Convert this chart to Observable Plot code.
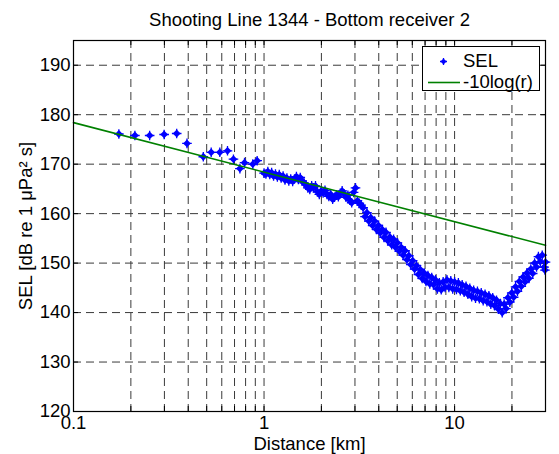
<!DOCTYPE html>
<html>
<head>
<meta charset="utf-8">
<script src="https://cdn.jsdelivr.net/npm/d3@7"></script>
<script src="https://cdn.jsdelivr.net/npm/@observablehq/plot@0.6"></script>
<style>
  html, body { margin: 0; padding: 0; background: #fff; }
  #chart { position: relative; width: 559px; height: 454px; font-family: "Liberation Sans", Arial, sans-serif; }
  #legend {
    position: absolute; left: 422px; top: 46px; width: 118px; height: 45px;
    box-sizing: border-box; border: 1px solid #000; background: #fff;
    font-size: 18.5px; color: #000;
  }
  #legend .row { position: absolute; left: 0; display: flex; align-items: center; height: 22px; }
  #legend .row svg { display: block; }
</style>
</head>
<body>
<div id="chart">
  <div id="legend">
    <div class="row" style="top:3px">
      <svg width="40" height="22"><path d="M20.5,8v7M17,11.5h7" stroke="#0000ff" stroke-width="1.3"/><path d="M20.5,8.5l3,3l-3,3l-3,-3z" fill="#0000ff"/></svg>
      <span>SEL</span>
    </div>
    <div class="row" style="top:24px">
      <svg width="40" height="22"><line x1="5" x2="37" y1="11.5" y2="11.5" stroke="#008000" stroke-width="1.6"/></svg>
      <span>-10log(r)</span>
    </div>
  </div>
</div>
<script>
// Shot-by-shot sound exposure level at bottom receiver 2, shooting line 1344
const distanceKm = [
  0.173, 0.21, 0.251, 0.299, 0.348, 0.394, 0.48, 0.528, 0.586, 0.643, 0.691, 0.747, 0.79, 0.873, 0.92,
  1.000, 1.023, 1.047, 1.072, 1.096, 1.122, 1.148, 1.175, 1.202, 1.230,
  1.259, 1.288, 1.318, 1.349, 1.380, 1.413, 1.445, 1.479, 1.514, 1.549,
  1.585, 1.622, 1.660, 1.698, 1.738, 1.778, 1.820, 1.862, 1.905, 1.950,
  1.995, 2.042, 2.089, 2.138, 2.188, 2.239, 2.291, 2.344, 2.399, 2.455,
  2.512, 2.570, 2.630, 2.692, 2.754, 2.818, 2.884, 2.951, 3.020, 3.090,
  3.162, 3.236, 3.311, 3.388, 3.467, 3.548, 3.631, 3.715, 3.802, 3.890,
  3.981, 4.074, 4.169, 4.266, 4.365, 4.467, 4.571, 4.677, 4.786, 4.898,
  5.012, 5.129, 5.248, 5.370, 5.495, 5.623, 5.754, 5.888, 6.026, 6.166,
  6.310, 6.457, 6.607, 6.761, 6.918, 7.079, 7.244, 7.413, 7.586, 7.762,
  7.943, 8.128, 8.318, 8.511, 8.710, 8.913, 9.120, 9.333, 9.550, 9.772,
  10.00, 10.23, 10.47, 10.72, 10.96, 11.22, 11.48, 11.75, 12.02, 12.30,
  12.59, 12.88, 13.18, 13.49, 13.80, 14.13, 14.45, 14.79, 15.14, 15.49,
  15.85, 16.22, 16.60, 16.98, 17.38, 17.78, 18.20, 18.62, 19.05, 19.50,
  19.95, 20.42, 20.89, 21.38, 21.88, 22.39, 22.91, 23.44, 23.99, 24.55,
  25.12, 25.70, 26.30, 26.92, 27.54, 28.18, 28.84, 29.51, 29.80, 30.00
];
const selDb = [
  176.1, 175.8, 175.8, 176.0, 176.2, 174.2, 171.5, 172.4, 172.4, 172.7, 171.0, 169.1, 170.3, 170.0, 170.7,
  168.2, 168.0, 168.5, 167.9, 168.3, 167.6, 168.0, 167.4, 167.9, 167.2,
  167.6, 166.8, 167.2, 166.6, 167.0, 166.5, 167.0, 167.5, 166.9, 167.3,
  166.6, 166.2, 165.8, 165.2, 164.9, 165.6, 165.2, 165.6, 164.4, 163.9,
  164.6, 164.2, 164.7, 163.9, 163.5, 163.9, 162.9, 163.3, 163.8, 163.4,
  164.1, 164.6, 164.0, 163.3, 163.7, 162.7, 162.2, 164.3, 165.2, 162.6,
  162.1, 161.7, 161.2, 159.4, 160.2, 158.5, 159.2, 157.6, 158.5, 156.8,
  157.6, 156.1, 156.8, 155.2, 156.2, 154.5, 155.3, 153.7, 154.8, 153.2,
  154.1, 152.4, 153.2, 151.6, 152.5, 150.7, 151.5, 149.7, 150.5, 148.8,
  149.5, 147.7, 148.7, 146.9, 148.0, 146.3, 147.5, 145.8, 147.1, 145.6,
  146.6, 144.8, 146.0, 144.6, 146.2, 145.1, 146.6, 145.1, 146.4, 144.8,
  146.2, 144.7, 146.0, 144.4, 145.6, 144.1, 145.3, 143.7, 144.9, 143.2,
  144.5, 142.9, 144.3, 142.8, 144.0, 142.4, 143.7, 142.2, 143.4, 141.7,
  143.0, 141.4, 142.5, 140.7, 141.8, 140.0, 141.7, 140.8, 143.0, 142.1,
  144.0, 143.1, 145.2, 144.3, 146.3, 145.3, 147.2, 146.2, 148.0, 146.9,
  148.8, 147.9, 150.0, 149.2, 151.3, 150.3, 151.6, 149.2, 148.6, 150.2
];

// Spherical spreading reference, -10log(r), over the plotted range
const refDistanceKm = [0.1, 30];
const refDb = [178.4, 153.6];

const xTicks = [0.1, 1, 10, 30];
const xGrid = [0.2, 0.3, 0.4, 0.5, 0.6, 0.7, 0.8, 0.9, 1, 2, 3, 4, 5, 6, 7, 8, 9, 10, 20, 30];
const yTicks = [120, 130, 140, 150, 160, 170, 180, 190];
const yGrid = [130, 140, 150, 160, 170, 180, 190];

const titleText = "Shooting Line 1344 - Bottom receiver 2";
const xLabel = "Distance [km]";
const yLabel = "SEL [dB re 1 \u03BCPa\u00B2 s]";

const shots = distanceKm.map((d, i) => ({distance: d, sel: selDb[i]}));
const reference = refDistanceKm.map((d, i) => ({distance: d, sel: refDb[i]}));

const gridStyle = {stroke: "#3a3a3a", strokeWidth: 1, strokeDasharray: "8,5"};
const font = "Liberation Sans, Arial, sans-serif";

const chart = Plot.plot({
  width: 559,
  height: 454,
  marginLeft: 73,
  marginRight: 14,
  marginTop: 40,
  marginBottom: 43,
  x: {type: "log", domain: [0.1, 30]},
  y: {domain: [120, 195]},
  style: {fontFamily: font, fontSize: "18.5px", background: "#fff", color: "#000", overflow: "visible"},
  marks: [
    Plot.ruleX(xGrid, {x: d => d, ...gridStyle}),
    Plot.ruleY(yGrid, {y: d => d, ...gridStyle}),
    // inward tick marks on all four sides
    Plot.ruleX(xGrid, {x: d => d, insetTop: 366, stroke: "#000"}),
    Plot.ruleX(xGrid, {x: d => d, insetBottom: 366, stroke: "#000"}),
    Plot.ruleY(yGrid, {y: d => d, insetRight: 467, stroke: "#000"}),
    Plot.ruleY(yGrid, {y: d => d, insetLeft: 467, stroke: "#000"}),
    Plot.dot(shots, {x: "distance", y: "sel", symbol: "plus", r: 3.2, stroke: "#0000ff", strokeWidth: 1.3}),
    Plot.dot(shots, {x: "distance", y: "sel", symbol: "diamond2", r: 3.5, fill: "#0000ff"}),
    Plot.line(reference, {x: "distance", y: "sel", stroke: "#008000", strokeWidth: 1.6}),
    Plot.frame({stroke: "#000", strokeWidth: 1.2}),
    Plot.axisX(xTicks, {tickSize: 0, tickPadding: 4, tickFormat: d => String(d), label: null, fontSize: 18.5}),
    Plot.axisY(yTicks, {tickSize: 0, tickPadding: 3, label: null, fontSize: 18.5}),
    Plot.text([xLabel], {frameAnchor: "bottom", lineAnchor: "middle", dy: 33, fontSize: 18.5}),
    Plot.text([yLabel], {frameAnchor: "left", textAnchor: "middle", lineAnchor: "middle", dx: -47, rotate: -90, fontSize: 18.5}),
    Plot.text([titleText], {frameAnchor: "top", lineAnchor: "middle", dy: -20, fontSize: 18.5})
  ]
});

document.getElementById("chart").prepend(chart);
</script>
</body>
</html>
